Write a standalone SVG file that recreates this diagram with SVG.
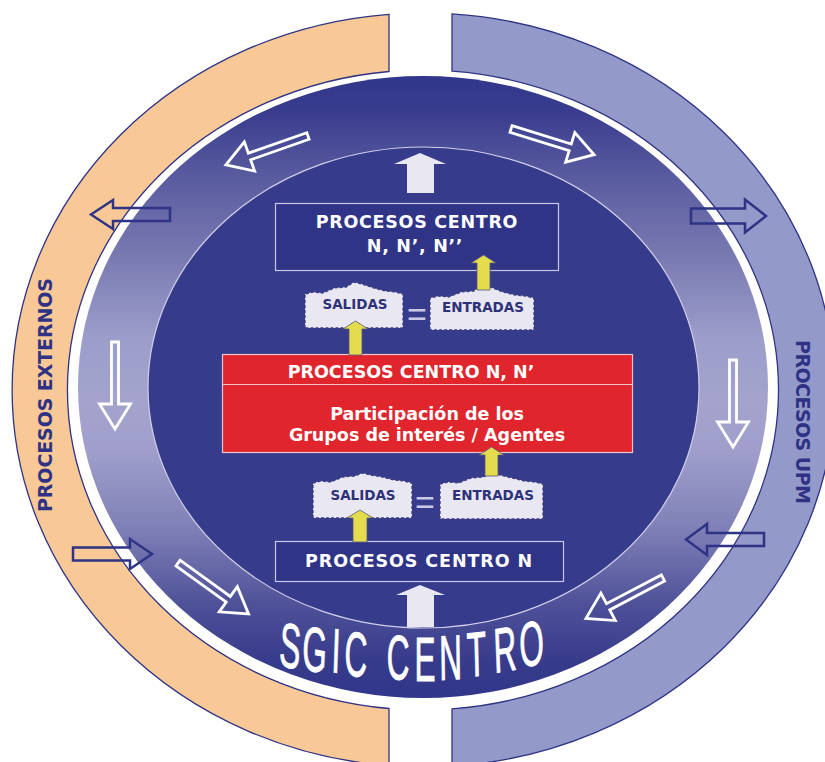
<svg xmlns="http://www.w3.org/2000/svg" width="825" height="762" viewBox="0 0 825 762">
<style>
.band{stroke:#2e3385;stroke-width:1.3}
.side{font-family:"DejaVu Sans","Liberation Sans",sans-serif;font-weight:bold;font-size:19px;fill:#2e3184;text-anchor:middle}
.wt{font-family:"DejaVu Sans","Liberation Sans",sans-serif;font-weight:bold;font-size:17.5px;fill:#ffffff;text-anchor:middle}
.cloud{fill:#e9e7f2;stroke:#3a3e80;stroke-width:1.3;stroke-dasharray:3 2}
.ct{font-family:"DejaVu Sans","Liberation Sans",sans-serif;font-weight:bold;font-size:13.5px;fill:#2d3178;text-anchor:middle}
.eq{font-family:"Liberation Sans",sans-serif;font-size:34px;fill:#c9cae8;text-anchor:middle}
.warr{fill:none;stroke:#ffffff;stroke-width:2.8;stroke-linejoin:miter}
.darr{fill:none;stroke:#2e3385;stroke-width:2.5;stroke-linejoin:miter}
.yarr{fill:#e5dc4d;stroke:#55557a;stroke-width:0.8}
.uarr{fill:#e9e7f1}
.sgic{font-family:"Liberation Sans",Arial,sans-serif;font-size:63px;fill:#ffffff;stroke:#ffffff;stroke-width:1}
</style>
<defs>
<linearGradient id="ringGrad" x1="0" y1="0" x2="0" y2="1">
<stop offset="0" stop-color="#30368a"/>
<stop offset="0.06" stop-color="#3a3d8e"/>
<stop offset="0.15" stop-color="#55589d"/>
<stop offset="0.28" stop-color="#7777b0"/>
<stop offset="0.42" stop-color="#9c9dca"/>
<stop offset="0.52" stop-color="#a3a3cd"/>
<stop offset="0.6" stop-color="#a09fcc"/>
<stop offset="0.73" stop-color="#7e7fb6"/>
<stop offset="0.85" stop-color="#4e5198"/>
<stop offset="0.94" stop-color="#373b8b"/>
<stop offset="1" stop-color="#30368a"/>
</linearGradient>
<path id="wa" d="M0,-3.5 H62 V-15.5 L87,0 L62,15.5 V3.5 H0 Z"/>
</defs>

<g id="externos">
<path class="band" fill="#f8c996" d="M389,14.3 A411,377 0 0 0 389,765.7 L389,708.5 A356,320 0 0 1 389,71.5 Z"/>
<text class="side" transform="translate(45,395) rotate(-90)" x="0" y="7" textLength="234" lengthAdjust="spacing">PROCESOS EXTERNOS</text>
</g>

<g id="upm">
<path class="band" fill="#9399c9" d="M452,13.9 A411,377 0 0 1 452,766.1 L452,708.9 A356,320 0 0 0 452,71.1 Z"/>
<text class="side" transform="translate(803,422) rotate(90)" x="0" y="7" textLength="164" lengthAdjust="spacing">PROCESOS UPM</text>
</g>

<g id="sgic-centro">
<ellipse cx="423" cy="387" rx="345" ry="311" fill="url(#ringGrad)"/>
<ellipse cx="423.5" cy="387.5" rx="275.5" ry="240.5" fill="#373b8c" stroke="#d0d0ea" stroke-width="1.2"/>
<text class="sgic" transform="scale(0.5,1)" x="557 602.8 662 688 746 772.8 829 879.2 934.8 989 1040.8" y="665 669 672 675 677 679 681 680 677 673 668" rotate="7 5.5 4 3 0 1 0 -1.5 -3 -4.5 -6">SGIC CENTRO</text>
</g>

<g id="procesos-centro-nnn">
<rect x="275.5" y="203.5" width="283" height="67" fill="#2f3487" stroke="#c8c8e6" stroke-width="1.2"/>
<text class="wt" x="417" y="228" letter-spacing="0.7">PROCESOS CENTRO</text>
<text class="wt" x="415" y="252" letter-spacing="0.7">N, N’, N’’</text>
</g>

<g id="procesos-centro-nn">
<rect x="222.5" y="354.5" width="410" height="98" fill="#e0252d" stroke="#ecc4cc" stroke-width="1.2"/>
<line x1="222.5" y1="384.5" x2="632.5" y2="384.5" stroke="#ecc4cc" stroke-width="1.2"/>
<text class="wt" x="411" y="378">PROCESOS CENTRO N, N’</text>
<text class="wt" x="427" y="420">Participación de los</text>
<text class="wt" x="427" y="441">Grupos de interés / Agentes</text>
</g>

<g id="procesos-centro-n">
<rect x="275.5" y="541.5" width="288" height="40" fill="#2f3487" stroke="#c8c8e6" stroke-width="1.2"/>
<text class="wt" x="419" y="567" letter-spacing="0.9">PROCESOS CENTRO N</text>
</g>

<g id="salidas-1">
<path class="cloud" d="M305,328 L305,294 L312.8,292 L322.6,293 L334.4,288 L346.2,287 L354,282 L361.8,284 L373.6,288 L385.4,291 L395.2,292 L403,294 L403,328 Z"/>
<text class="ct" x="355" y="309">SALIDAS</text>
</g>
<g id="entradas-1">
<path class="cloud" d="M430,330 L430,298 L438.3,296 L448.7,297 L461.2,292 L473.7,291 L482,285 L490.3,287 L502.8,292 L515.3,295 L525.7,296 L534,298 L534,330 Z"/>
<text class="ct" x="483" y="312">ENTRADAS</text>
</g>
<text class="eq" x="417" y="326">=</text>

<g id="salidas-2">
<path class="cloud" d="M313,518 L313,483 L320.9,481 L330.8,482 L342.7,477 L354.6,476 L362.5,473 L370.4,475 L382.3,477 L394.2,480 L404.1,481 L412,483 L412,518 Z"/>
<text class="ct" x="363" y="500">SALIDAS</text>
</g>
<g id="entradas-2">
<path class="cloud" d="M440,519 L440,484 L448.2,482 L458.5,483 L470.9,478 L483.3,477 L491.5,473 L499.7,475 L512.1,478 L524.5,481 L534.8,482 L543,484 L543,519 Z"/>
<text class="ct" x="493" y="500">ENTRADAS</text>
</g>
<text class="eq" x="425" y="514">=</text>

<g id="connectors">
<path class="uarr" d="M407,193 L407,164 L394,164 L420,153 L446,164 L434,164 L434,193 Z"/>
<path class="uarr" d="M407,627 L407,595 L396,595 L420,585 L445,595 L434,595 L434,627 Z"/>
<path class="yarr" d="M349,355 L349,329 L343,329 L355.5,321 L368,329 L362,329 L362,355 Z"/>
<path class="yarr" d="M477,290 L477,263 L471,263 L483.5,255 L496,263 L490,263 L490,290 Z"/>
<path class="yarr" d="M353,542 L353,518 L347,518 L360,510 L373,518 L367,518 L367,542 Z"/>
<path class="yarr" d="M485,476 L485,455 L479,455 L491.5,447 L504,455 L498,455 L498,476 Z"/>
<use href="#wa" class="warr" transform="translate(308,136) rotate(160.7)"/>
<use href="#wa" class="warr" transform="translate(511,129) rotate(17.2)"/>
<use href="#wa" class="warr" transform="translate(115,342) rotate(90)"/>
<use href="#wa" class="warr" transform="translate(733,360) rotate(90)"/>
<use href="#wa" class="warr" transform="translate(178,563) rotate(35.8)"/>
<use href="#wa" class="warr" transform="translate(663,578) rotate(152.3)"/>
<path class="darr" d="M170,208 H113 V200 L91,214.5 L113,229 V221 H170 Z"/>
<path class="darr" d="M691,208.5 H745 V199.5 L766,216 L745,232.5 V223.5 H691 Z"/>
<path class="darr" d="M73,547.5 H130 V539 L152,554 L130,569 V560.5 H73 Z"/>
<path class="darr" d="M764,533 H707 V524 L686,539.5 L707,555 V546 H764 Z"/>
</g>
</svg>
